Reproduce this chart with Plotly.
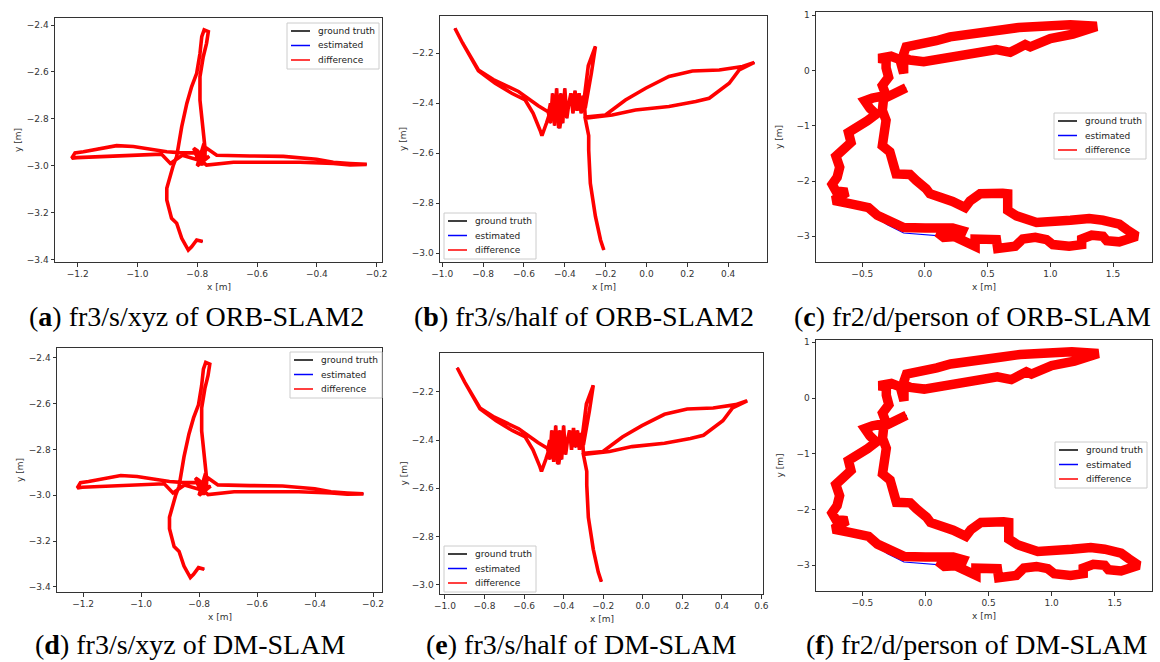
import plotly.graph_objects as go

# ---------------- data ----------------
# fr3/s/xyz ground truth trajectory (x, y in metres)
xyz_gt_x = [-0.782, -0.802, -0.819, -0.830, -0.852, -0.869, -0.886, -0.897, -0.902, -0.902,
            -0.891, -0.880, -0.869, -0.863, -0.852, -0.835, -0.819, -0.802, -0.791, -0.785,
            -0.777, -0.763, -0.769, -0.780, -0.791, -0.791, -0.785, -0.780, -0.774, -0.774,
            -0.785, -0.800, -0.812, -0.790, -0.805, -0.770, -0.795, -0.760, -0.800, -0.780,
            -0.735, -0.624, -0.512, -0.401, -0.345, -0.289, -0.233, -0.289, -0.345, -0.456,
            -0.568, -0.679, -0.769, -0.785, -0.850, -0.890, -0.920, -1.014, -1.125, -1.203,
            -1.220, -1.209, -1.181, -1.125, -1.070, -1.014, -0.958, -0.902, -0.850, -0.800]
xyz_gt_y = [-3.323, -3.316, -3.345, -3.359, -3.309, -3.245, -3.224, -3.174, -3.146, -3.096,
            -3.046, -2.997, -2.961, -2.918, -2.833, -2.734, -2.663, -2.606, -2.521, -2.450,
            -2.421, -2.428, -2.478, -2.535, -2.620, -2.720, -2.791, -2.862, -2.926, -2.961,
            -2.997, -2.935, -2.925, -2.990, -2.950, -2.930, -2.985, -2.960, -3.000, -2.915,
            -2.955, -2.958, -2.960, -2.972, -2.985, -2.990, -2.994, -2.996, -2.990, -2.985,
            -2.985, -2.985, -2.997, -2.980, -2.955, -2.990, -2.950, -2.954, -2.960, -2.965,
            -2.968, -2.945, -2.940, -2.925, -2.914, -2.918, -2.930, -2.940, -2.945, -2.945]

# fr3/s/half ground truth trajectory
half_gt_x = [-0.209, -0.225, -0.250, -0.275, -0.283, -0.283, -0.300, -0.168, -0.054, 0.110,
             0.241, 0.307, 0.405, 0.454, 0.528, 0.470, 0.356, 0.225, 0.110, -0.004,
             -0.103, -0.201, -0.300, -0.305, -0.285, -0.250, -0.270, -0.300, -0.310, -0.320,
             -0.330, -0.340, -0.350, -0.360, -0.370, -0.380, -0.390, -0.400, -0.410, -0.420,
             -0.430, -0.440, -0.450, -0.460, -0.470, -0.480, -0.470, -0.455, -0.440, -0.425,
             -0.410, -0.470, -0.490, -0.512, -0.520, -0.555, -0.594, -0.660, -0.741, -0.823,
             -0.900, -0.938, -0.900, -0.823, -0.750, -0.627, -0.530, -0.470, -0.430, -0.400]
half_gt_y = [-2.987, -2.947, -2.853, -2.720, -2.587, -2.530, -2.460, -2.447, -2.427, -2.413,
             -2.393, -2.380, -2.320, -2.267, -2.237, -2.253, -2.267, -2.271, -2.293, -2.340,
             -2.387, -2.447, -2.455, -2.380, -2.250, -2.173, -2.280, -2.420, -2.370, -2.440,
             -2.360, -2.430, -2.350, -2.440, -2.360, -2.400, -2.460, -2.340, -2.480, -2.360,
             -2.500, -2.340, -2.490, -2.360, -2.480, -2.440, -2.400, -2.470, -2.380, -2.500,
             -2.420, -2.430, -2.480, -2.530, -2.510, -2.440, -2.387, -2.360, -2.320, -2.270,
             -2.160, -2.100, -2.160, -2.267, -2.305, -2.353, -2.410, -2.440, -2.460, -2.430]

# fr2/d/person ground truth trajectory
person_gt_x = [-0.17, -0.12, -0.01, 0.15, 0.36, 0.47, 0.57, 0.68, 0.80, 0.84,
               1.00, 1.18, 1.37, 1.16, 0.89, 0.75, 0.62, 0.45, 0.36, 0.20,
               0.09, -0.09, -0.15, -0.17, -0.17, -0.20, -0.27, -0.37, -0.31, -0.31,
               -0.29, -0.34, -0.31, -0.42, -0.48, -0.44, -0.39, -0.46, -0.55, -0.61,
               -0.59, -0.65, -0.71, -0.68, -0.70, -0.74, -0.71, -0.62, -0.69, -0.73,
               -0.60, -0.45, -0.38, -0.30, -0.17, 0.00, 0.22, 0.30, 0.28, 0.15,
               0.10, 0.25, 0.40, 0.40, 0.57, 0.58, 0.72, 0.78, 0.88, 0.97,
               1.02, 1.15, 1.25, 1.25, 1.33, 1.42, 1.45, 1.55, 1.62, 1.69,
               1.61, 1.55, 1.42, 1.31, 1.16, 1.02, 0.89, 0.73, 0.66, 0.66,
               0.62, 0.44, 0.36, 0.32, 0.22, 0.04, 0.01, -0.07, -0.12, -0.23,
               -0.25, -0.28, -0.34, -0.33, -0.31, -0.34, -0.33, -0.15]
person_gt_y = [0.24, 0.19, 0.16, 0.22, 0.26, 0.33, 0.38, 0.33, 0.47, 0.43,
               0.58, 0.66, 0.80, 0.83, 0.82, 0.78, 0.74, 0.70, 0.66, 0.61,
               0.54, 0.48, 0.43, 0.30, -0.05, 0.20, 0.26, 0.22, 0.20, 0.05,
               -0.12, -0.27, -0.45, -0.50, -0.55, -0.68, -0.79, -0.91, -1.02, -1.12,
               -1.30, -1.44, -1.55, -1.75, -1.93, -2.06, -2.18, -2.20, -2.29, -2.35,
               -2.41, -2.48, -2.62, -2.72, -2.84, -2.85, -2.85, -2.90, -3.00, -3.02,
               -2.93, -3.02, -3.18, -3.05, -3.06, -3.22, -3.18, -3.05, -3.02, -3.06,
               -3.15, -3.18, -3.15, -3.05, -2.98, -3.00, -3.08, -3.10, -3.06, -3.00,
               -2.88, -2.78, -2.71, -2.68, -2.71, -2.74, -2.75, -2.63, -2.53, -2.23,
               -2.22, -2.23, -2.36, -2.48, -2.37, -2.23, -2.14, -1.99, -1.88, -1.87,
               -1.62, -1.47, -1.36, -1.02, -0.90, -0.72, -0.51, -0.31]
# estimated trajectory for fr2/d/person (drifts below the truth along the bottom)
person_est_x = person_gt_x
person_est_y = [0.24, 0.19, 0.16, 0.22, 0.26, 0.33, 0.38, 0.33, 0.47, 0.43,
                0.58, 0.66, 0.80, 0.83, 0.82, 0.78, 0.74, 0.70, 0.66, 0.61,
                0.54, 0.48, 0.43, 0.30, -0.05, 0.20, 0.26, 0.22, 0.20, 0.05,
                -0.12, -0.27, -0.45, -0.50, -0.55, -0.68, -0.79, -0.91, -1.02, -1.12,
                -1.30, -1.44, -1.55, -1.75, -1.93, -2.06, -2.18, -2.20, -2.29, -2.35,
                -2.41, -2.50, -2.67, -2.79, -2.94, -2.97, -3.01, -2.98, -3.04, -3.06,
                -2.99, -3.04, -3.21, -3.08, -3.09, -3.26, -3.24, -3.08, -3.05, -3.09,
                -3.21, -3.22, -3.21, -3.08, -3.01, -3.03, -3.11, -3.14, -3.09, -3.00,
                -2.88, -2.78, -2.71, -2.68, -2.71, -2.74, -2.75, -2.63, -2.53, -2.23,
                -2.22, -2.23, -2.36, -2.48, -2.37, -2.23, -2.14, -1.99, -1.88, -1.87,
                -1.62, -1.47, -1.36, -1.02, -0.90, -0.72, -0.51, -0.31]

series_names = ["ground truth", "estimated", "difference"]
series_colors = ["black", "blue", "red"]

captions = ["(<b>a</b>) fr3/s/xyz of ORB-SLAM2", "(<b>b</b>) fr3/s/half of ORB-SLAM2",
            "(<b>c</b>) fr2/d/person of ORB-SLAM", "(<b>d</b>) fr3/s/xyz of DM-SLAM",
            "(<b>e</b>) fr3/s/half of DM-SLAM", "(<b>f</b>) fr2/d/person of DM-SLAM"]

x_ticks_xyz = [-1.2, -1.0, -0.8, -0.6, -0.4, -0.2]
y_ticks_xyz = [-3.4, -3.2, -3.0, -2.8, -2.6, -2.4]
x_ticks_half_b = [-1.0, -0.8, -0.6, -0.4, -0.2, 0.0, 0.2, 0.4]
x_ticks_half_e = [-1.0, -0.8, -0.6, -0.4, -0.2, 0.0, 0.2, 0.4, 0.6]
y_ticks_half = [-3.0, -2.8, -2.6, -2.4, -2.2]
x_ticks_person = [-0.5, 0.0, 0.5, 1.0, 1.5]
y_ticks_person = [-3, -2, -1, 0, 1]

# ---------------- layout settings ----------------
W, H = 1160, 662
panels = [
    dict(gx=xyz_gt_x, gy=xyz_gt_y, ex=xyz_gt_x, ey=xyz_gt_y, box=(55, 18, 382, 262),
         xr=[-1.276, -0.182], yr=[-3.41, -2.37], xt=x_ticks_xyz, yt=y_ticks_xyz,
         xf=".1f", yf=".1f", dw=3.6, leg=(287, 23)),
    dict(gx=half_gt_x, gy=half_gt_y, ex=half_gt_x, ey=half_gt_y, box=(440, 16, 767, 262),
         xr=[-1.011, 0.59], yr=[-3.035, -2.051], xt=x_ticks_half_b, yt=y_ticks_half,
         xf=".1f", yf=".1f", dw=3.6, leg=(444, 213)),
    dict(gx=person_gt_x, gy=person_gt_y, ex=person_est_x, ey=person_est_y, box=(816, 12, 1152, 262),
         xr=[-0.869, 1.811], yr=[-3.465, 1.06], xt=x_ticks_person, yt=y_ticks_person,
         xf=".1f", yf="d", dw=9.5, leg=(1054, 113)),
    dict(gx=xyz_gt_x, gy=xyz_gt_y, ex=xyz_gt_x, ey=xyz_gt_y, box=(57, 348, 382, 592),
         xr=[-1.29, -0.169], yr=[-3.422, -2.358], xt=x_ticks_xyz, yt=y_ticks_xyz,
         xf=".1f", yf=".1f", dw=3.6, leg=(290, 352)),
    dict(gx=half_gt_x, gy=half_gt_y, ex=half_gt_x, ey=half_gt_y, box=(440, 353, 763, 594),
         xr=[-1.025, 0.608], yr=[-3.038, -2.039], xt=x_ticks_half_e, yt=y_ticks_half,
         xf=".1f", yf=".1f", dw=3.6, leg=(444, 546)),
    dict(gx=person_gt_x, gy=person_gt_y, ex=person_est_x, ey=person_est_y, box=(816, 340, 1152, 591),
         xr=[-0.867, 1.795], yr=[-3.46, 1.04], xt=x_ticks_person, yt=y_ticks_person,
         xf=".1f", yf="d", dw=9.5, leg=(1055, 442)),
]
caption_pos = [(196, 316), (584, 316), (972, 316), (190, 644), (581, 644), (976, 644)]

AX = "#333333"
TXT = "#333333"
FONT = "DejaVu Sans"
fig = go.Figure()
annotations, shapes = [], []
layout = dict(width=W, height=H, margin=dict(l=0, r=0, t=0, b=0), showlegend=False,
              paper_bgcolor="white", plot_bgcolor="white")


def px(x):
    return x / W


def py(y):
    return 1 - y / H


for i, p in enumerate(panels):
    n = "" if i == 0 else str(i + 1)
    xa, ya = "x" + n, "y" + n
    ys = [p["gy"], p["ey"], p["gy"]]
    xs = [p["gx"], p["ex"], p["gx"]]
    widths = [1.2, 1.2, p["dw"]]
    for k in range(3):
        fig.add_trace(go.Scatter(
            x=xs[k], y=ys[k], mode="lines", name=series_names[k],
            line=dict(color=series_colors[k], width=widths[k]),
            xaxis=xa, yaxis=ya, hoverinfo="skip"))
    l, t, r, b = p["box"]
    common = dict(showline=True, mirror=True, linecolor=AX, linewidth=1,
                  ticks="outside", ticklen=3.5, tickcolor=AX, tickwidth=1,
                  tickfont=dict(family=FONT, size=9, color=TXT),
                  showgrid=False, zeroline=False, automargin=False)
    layout["xaxis" + n] = dict(common, domain=[px(l), px(r)], range=p["xr"], anchor=ya,
                               tickvals=p["xt"], tickformat=p["xf"])
    layout["yaxis" + n] = dict(common, domain=[py(b), py(t)], range=p["yr"], anchor=xa,
                               tickvals=p["yt"], tickformat=p["yf"])
    # axis titles
    annotations.append(dict(text="x [m]", x=px((l + r) / 2), y=py(b + 25), xref="paper", yref="paper",
                            xanchor="center", yanchor="middle", showarrow=False,
                            font=dict(family=FONT, size=9, color=TXT)))
    annotations.append(dict(text="y [m]", x=px(l - 37), y=py((t + b) / 2), xref="paper", yref="paper",
                            xanchor="center", yanchor="middle", showarrow=False, textangle=-90,
                            font=dict(family=FONT, size=9, color=TXT)))
    # legend box (drawn like matplotlib's)
    lx, ly = p["leg"]
    shapes.append(dict(type="rect", xref="paper", yref="paper",
                       x0=px(lx), x1=px(lx + 92), y0=py(ly + 46), y1=py(ly),
                       line=dict(color="#cccccc", width=1), fillcolor="white", layer="above"))
    for k, off in enumerate([8, 22.5, 37]):
        shapes.append(dict(type="line", xref="paper", yref="paper",
                           x0=px(lx + 4), x1=px(lx + 23), y0=py(ly + off), y1=py(ly + off),
                           line=dict(color=series_colors[k], width=1.5), layer="above"))
        annotations.append(dict(text=series_names[k], x=px(lx + 29), y=py(ly + off),
                                xref="paper", yref="paper", xanchor="left", yanchor="middle",
                                showarrow=False, font=dict(family=FONT, size=9, color="#222222")))

for txt, (cx, cy) in zip(captions, caption_pos):
    annotations.append(dict(
        text=txt, x=px(cx), y=py(cy), xref="paper", yref="paper",
        xanchor="center", yanchor="middle", showarrow=False,
        font=dict(family="Liberation Serif", size=28, color="black")))

layout["annotations"] = annotations
layout["shapes"] = shapes
fig.update_layout(**layout)
fig.write_html("out.html", config={"displayModeBar": False},
               post_script="document.body.style.margin='0px';document.body.style.padding='0px';")
